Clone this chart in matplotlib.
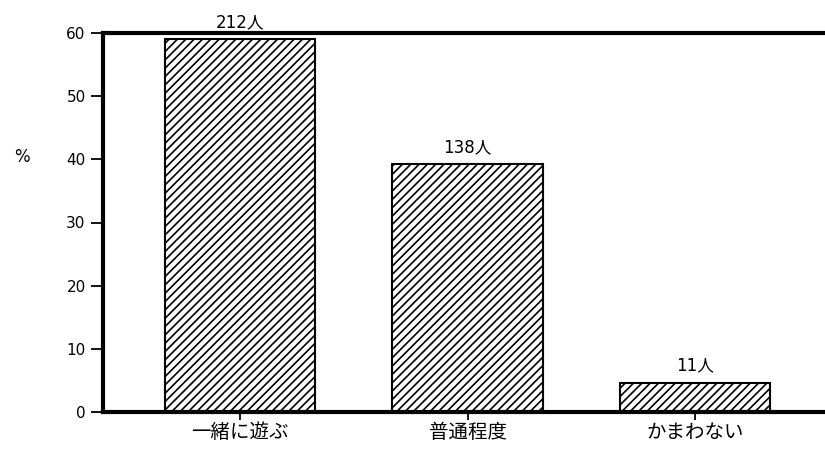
import matplotlib.pyplot as plt

categories = ["一緒に遊ぶ", "普通程度", "かまわない"]
percent = [59.0, 39.2, 4.6]
counts = ["212人", "138人", "11人"]
yticks = [0, 10, 20, 30, 40, 50, 60]

plt.rcParams['font.family'] = ['DejaVu Sans', 'Noto Sans CJK JP']
plt.rcParams['hatch.linewidth'] = 1.2

fig = plt.figure(figsize=(8.25, 4.49), dpi=100)
ax = fig.add_axes([103 / 825, 37 / 449, 727 / 825, 379 / 449])

x = range(len(categories))
bars = ax.bar(x, percent, width=0.66, color="white", edgecolor="black",
              linewidth=1.5, hatch="////")

for b, c in zip(bars, counts):
    ax.annotate(c, (b.get_x() + b.get_width() / 2, b.get_height()),
                xytext=(0, 6), textcoords="offset points", ha="center",
                va="bottom", fontsize=12,
                family=['DejaVu Sans', 'Noto Sans CJK JP'])

ax.set_xlim(-0.602, 2.593)
ax.set_ylim(0, 60)
ax.set_yticks(yticks)
ax.set_xticks(list(x))
ax.set_xticklabels(categories, family=['Noto Sans CJK JP'], fontsize=14)
ax.tick_params(axis="y", labelsize=11, length=9, width=1.3, direction="out")
ax.tick_params(axis="x", length=6, width=1.3, direction="out", pad=1)

for s in ["left", "bottom", "top"]:
    ax.spines[s].set_linewidth(3)
ax.spines["right"].set_visible(False)

fig.text(22 / 825, 1 - 157 / 449, "%", fontsize=12, ha="center", va="center")

fig.savefig("out.png", dpi=100)
